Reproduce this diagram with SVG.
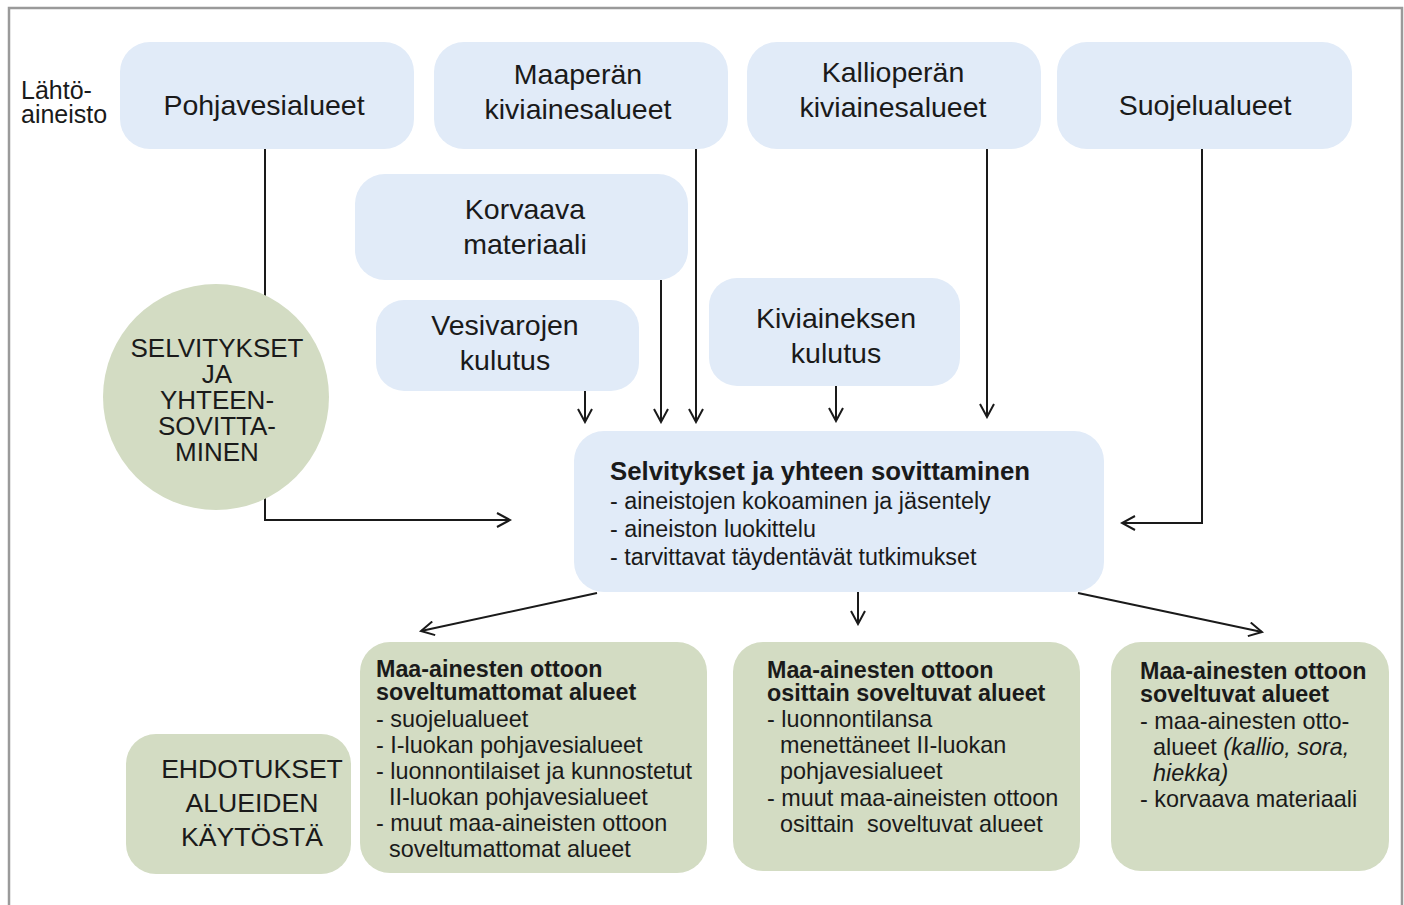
<svg xmlns="http://www.w3.org/2000/svg" width="1404" height="905" viewBox="0 0 1404 905">
<defs>
<marker id="ah" viewBox="0 0 16 16" refX="14" refY="8" markerWidth="16" markerHeight="16" markerUnits="userSpaceOnUse" orient="auto">
<path d="M1,1 L14,8 L1,15" fill="none" stroke="#1a1a1a" stroke-width="2"/>
</marker>
<style>
.blue{fill:#e1ebf8}
.green{fill:#d3dcc3}
text{font-family:"Liberation Sans",Arial,sans-serif;fill:#1a1a1a}
.t26{font-size:28.5px;text-anchor:middle}
.t24{font-size:26px;text-anchor:middle}
.te{font-size:26.6px;text-anchor:middle}
.cl{font-size:23.3px}
.ct{font-size:25.8px;font-weight:bold}
.bt{font-size:23.3px;font-weight:bold}
.bl{font-size:23.4px}
.conn{fill:none;stroke:#1a1a1a;stroke-width:2}
</style>
</defs>
<rect width="1404" height="905" fill="#ffffff"/>
<path d="M9,905 V8 H1402 V905" fill="none" stroke="#9a9a9a" stroke-width="2.5"/>

<g id="connectors">
<path class="conn" d="M265,149 V520 H510" marker-end="url(#ah)"/>
<path class="conn" d="M696,149 V422" marker-end="url(#ah)"/>
<path class="conn" d="M987,149 V417" marker-end="url(#ah)"/>
<path class="conn" d="M1202,149 V523 H1122" marker-end="url(#ah)"/>
<path class="conn" d="M661,280 V422" marker-end="url(#ah)"/>
<path class="conn" d="M585,391 V422" marker-end="url(#ah)"/>
<path class="conn" d="M836,386 V421" marker-end="url(#ah)"/>
<path class="conn" d="M597,593 L421,631" marker-end="url(#ah)"/>
<path class="conn" d="M858,592 V624" marker-end="url(#ah)"/>
<path class="conn" d="M1078,593 L1262,632" marker-end="url(#ah)"/>
</g>

<g id="label-lahtoaineisto">
<text x="21" y="99" font-size="25">Lähtö-</text>
<text x="21" y="123" font-size="25">aineisto</text>
</g>

<g id="n-pohjavesialueet">
<rect class="blue" x="120" y="42" width="294" height="107" rx="30"/>
<text class="t26" x="264" y="115">Pohjavesialueet</text>
</g>
<g id="n-maaperan">
<rect class="blue" x="434" y="42" width="294" height="107" rx="30"/>
<text class="t26" x="578" y="84">Maaperän</text>
<text class="t26" x="578" y="119">kiviainesalueet</text>
</g>
<g id="n-kallioperan">
<rect class="blue" x="747" y="42" width="294" height="107" rx="30"/>
<text class="t26" x="893" y="82">Kallioperän</text>
<text class="t26" x="893" y="117">kiviainesalueet</text>
</g>
<g id="n-suojelualueet">
<rect class="blue" x="1057" y="42" width="295" height="107" rx="30"/>
<text class="t26" x="1205" y="115">Suojelualueet</text>
</g>
<g id="n-korvaava">
<rect class="blue" x="355" y="174" width="333" height="106" rx="30"/>
<text class="t26" x="525" y="219">Korvaava</text>
<text class="t26" x="525" y="254">materiaali</text>
</g>
<g id="n-vesivarojen">
<rect class="blue" x="376" y="300" width="263" height="91" rx="28"/>
<text class="t26" x="505" y="335">Vesivarojen</text>
<text class="t26" x="505" y="370">kulutus</text>
</g>
<g id="n-kiviaineksen">
<rect class="blue" x="709" y="278" width="251" height="108" rx="28"/>
<text class="t26" x="836" y="328">Kiviaineksen</text>
<text class="t26" x="836" y="363">kulutus</text>
</g>

<g id="n-selvitykset-circle">
<circle class="green" cx="216" cy="397" r="113"/>
<text class="t24" x="217" y="357">SELVITYKSET</text>
<text class="t24" x="217" y="383">JA</text>
<text class="t24" x="217" y="409">YHTEEN-</text>
<text class="t24" x="217" y="435">SOVITTA-</text>
<text class="t24" x="217" y="461">MINEN</text>
</g>

<g id="n-selvitykset">
<rect class="blue" x="574" y="431" width="530" height="161" rx="30"/>
<text class="ct" x="610" y="480">Selvitykset ja yhteen sovittaminen</text>
<text class="cl" x="610" y="509">- aineistojen kokoaminen ja jäsentely</text>
<text class="cl" x="610" y="537">- aineiston luokittelu</text>
<text class="cl" x="610" y="565">- tarvittavat täydentävät tutkimukset</text>
</g>

<g id="n-ehdotukset">
<rect class="green" x="126" y="734" width="225" height="140" rx="30"/>
<text class="te" x="252" y="778">EHDOTUKSET</text>
<text class="te" x="252" y="812">ALUEIDEN</text>
<text class="te" x="252" y="846">KÄYTÖSTÄ</text>
</g>

<g id="n-soveltumattomat">
<rect class="green" x="360" y="642" width="347" height="231" rx="30"/>
<text class="bt" x="376" y="677">Maa-ainesten ottoon</text>
<text class="bt" x="376" y="700">soveltumattomat alueet</text>
<text class="bl" x="376" y="727">- suojelualueet</text>
<text class="bl" x="376" y="753">- I-luokan pohjavesialueet</text>
<text class="bl" x="376" y="779">- luonnontilaiset ja kunnostetut</text>
<text class="bl" x="389" y="805">II-luokan pohjavesialueet</text>
<text class="bl" x="376" y="831">- muut maa-aineisten ottoon</text>
<text class="bl" x="389" y="857">soveltumattomat alueet</text>
</g>

<g id="n-osittain">
<rect class="green" x="733" y="642" width="347" height="229" rx="30"/>
<text class="bt" x="767" y="678">Maa-ainesten ottoon</text>
<text class="bt" x="767" y="701">osittain soveltuvat alueet</text>
<text class="bl" x="767" y="727">- luonnontilansa</text>
<text class="bl" x="780" y="753">menettäneet II-luokan</text>
<text class="bl" x="780" y="779">pohjavesialueet</text>
<text class="bl" x="767" y="806">- muut maa-aineisten ottoon</text>
<text class="bl" x="780" y="832" xml:space="preserve">osittain  soveltuvat alueet</text>
</g>

<g id="n-soveltuvat">
<rect class="green" x="1111" y="642" width="278" height="229" rx="30"/>
<text class="bt" x="1140" y="679">Maa-ainesten ottoon</text>
<text class="bt" x="1140" y="702">soveltuvat alueet</text>
<text class="bl" x="1140" y="729">- maa-ainesten otto-</text>
<text class="bl" x="1153" y="755">alueet <tspan font-style="italic">(kallio, sora,</tspan></text>
<text class="bl" x="1153" y="781" font-style="italic">hiekka)</text>
<text class="bl" x="1140" y="807">- korvaava materiaali</text>
</g>
</svg>
